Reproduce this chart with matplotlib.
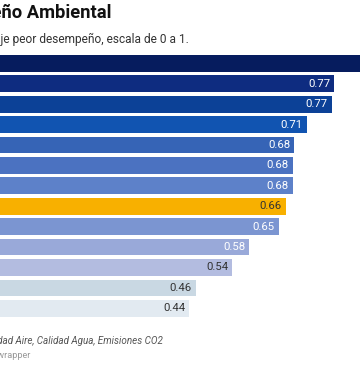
import matplotlib
matplotlib.use("Agg")
import matplotlib.pyplot as plt

plt.rcParams['font.family'] = ['Roboto', 'DejaVu Sans']

values = [0.95, 0.772, 0.767, 0.709, 0.681, 0.678, 0.678, 0.662, 0.646, 0.578, 0.539, 0.456, 0.441]
colors = ['#061c5e', '#0e2c80', '#0c4197', '#1154b1', '#3664b6', '#4b72c1', '#5d81c9',
          '#f8b000', '#7b95d1', '#99a9d9', '#b3bce0', '#c9d8e3', '#e2eaf1']
label_colors = ['white'] * 7 + ['#333333', 'white', 'white', '#333333', '#333333', '#333333']

title = "Índice de Desempeño Ambiental"
subtitle = "Mayor puntaje peor desempeño, escala de 0 a 1."
notes = "Variables: Calidad Aire, Calidad Agua, Emisiones CO2"
credit = "Gráfico: Created with Datawrapper"

W, H = 360, 366
fig = plt.figure(figsize=(W / 100, H / 100), dpi=100)
fig.patch.set_facecolor('white')

def fx(px):
    return px / W

def fy(py):
    return 1 - py / H

top_px, bot_px = 53.1, 318.5
ax = fig.add_axes([fx(-4), fy(bot_px), 438 / W, (bot_px - top_px) / H])
ax.axis('off')
ypos = list(range(len(values)))
ax.barh(ypos, values, height=0.82, color=colors)
ax.set_xlim(0, 1)
ax.set_ylim(len(values) - 0.5, -0.5)
for y, v, lc in zip(ypos, values, label_colors):
    ax.annotate(f"{v:.2f}", (v, y), xytext=(-4, 0), textcoords='offset pixels',
                ha='right', va='center', fontsize=8.2, color=lc, clip_on=False)

fig.text(fx(112), fy(18), title, ha='right', va='baseline', fontsize=13.2,
         fontweight='bold', color='#111111')
fig.text(fx(189), fy(43), subtitle, ha='right', va='baseline', fontsize=8.55,
         color='#333333')
fig.text(fx(163), fy(343.5), notes, ha='right', va='baseline', fontsize=7.15,
         style='italic', color='#555555')
fig.text(fx(30), fy(358), credit, ha='right', va='baseline', fontsize=6.6,
         color='#999999')

fig.savefig('out.png', dpi=100)
